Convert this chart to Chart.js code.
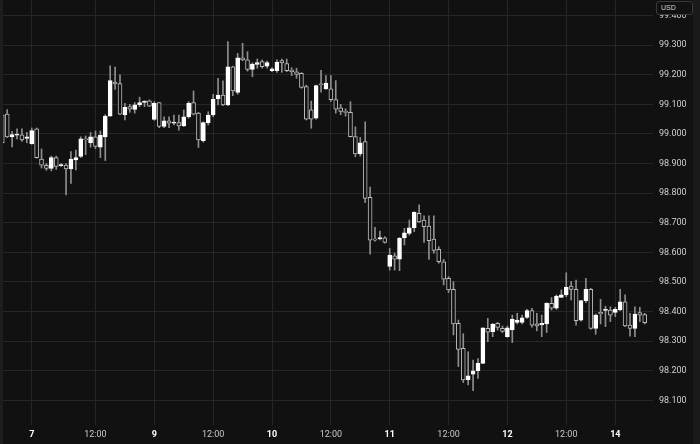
<!DOCTYPE html>
<html>
<head>
<meta charset="utf-8">
<title>USD hourly candles</title>
<script src="https://cdn.jsdelivr.net/npm/chart.js"></script>
<style>
  html, body { margin: 0; padding: 0; background: #111111; }
  #wrap { position: relative; width: 700px; height: 444px; box-sizing: border-box;
          border-left: 3px solid #1d1d1d; border-right: 7px solid #1a1a1a; }
  #usd { position: absolute; left: 653px; top: 1px; width: 37px; height: 14px; box-sizing: border-box;
         border: 1px solid #3a3a3a; border-radius: 3px; background: #111111; color: #cfcfcf;
         font: 7px "Liberation Sans", sans-serif; line-height: 12px; padding-left: 4px; }
</style>
</head>
<body>
<div id="wrap">
  <canvas id="chart" width="690" height="444"></canvas>
  <div id="usd">USD</div>
</div>
<script>
// hourly candles
const opens = [
  99.064, 99.067, 98.990, 98.996, 98.997, 98.985, 98.967, 99.017, 98.915, 98.894,
  98.883, 98.920, 98.893, 98.895, 98.882, 98.912, 98.924, 98.983, 98.970, 98.990,
  98.955, 98.990, 99.060, 99.175, 99.170, 99.064, 99.092, 99.083, 99.099, 99.106,
  99.112, 99.049, 99.106, 99.025, 99.044, 99.036, 99.038, 99.027, 99.058, 99.106,
  99.070, 98.977, 99.038, 99.064, 99.118, 99.131, 99.098, 99.227, 99.140, 99.257,
  99.250, 99.218, 99.235, 99.244, 99.229, 99.214, 99.214, 99.248, 99.238, 99.216,
  99.210, 99.205, 99.160, 99.081, 99.053, 99.167, 99.152, 99.152, 99.116, 99.088,
  99.075, 99.073, 98.991, 98.932, 98.974, 98.786, 98.643, 98.645, 98.649, 98.552,
  98.588, 98.577, 98.649, 98.664, 98.683, 98.732, 98.709, 98.689, 98.645, 98.610,
  98.568, 98.512, 98.475, 98.360, 98.276, 98.170, 98.188, 98.200, 98.225, 98.343,
  98.332, 98.360, 98.343, 98.315, 98.338, 98.363, 98.363, 98.380, 98.403, 98.358,
  98.355, 98.358, 98.428, 98.411, 98.448, 98.456, 98.486, 98.475, 98.371, 98.437,
  98.475, 98.343, 98.397, 98.404, 98.405, 98.397, 98.405, 98.433, 98.354, 98.343,
  98.396, 98.390
];
const highs = [
  99.070, 99.082, 99.009, 99.017, 99.017, 99.005, 99.020, 99.020, 98.949, 98.900,
  98.925, 98.925, 98.900, 98.900, 98.940, 98.945, 98.990, 98.993, 99.005, 99.010,
  99.010, 99.065, 99.230, 99.226, 99.200, 99.103, 99.100, 99.106, 99.124, 99.112,
  99.115, 99.109, 99.106, 99.058, 99.058, 99.064, 99.064, 99.081, 99.109, 99.145,
  99.073, 99.041, 99.075, 99.134, 99.188, 99.179, 99.312, 99.229, 99.272, 99.306,
  99.278, 99.240, 99.253, 99.250, 99.246, 99.224, 99.250, 99.253, 99.253, 99.224,
  99.222, 99.207, 99.165, 99.111, 99.165, 99.215, 99.197, 99.197, 99.180, 99.100,
  99.085, 99.109, 99.024, 98.988, 99.041, 98.820, 98.684, 98.672, 98.653, 98.613,
  98.597, 98.650, 98.681, 98.709, 98.737, 98.760, 98.723, 98.723, 98.723, 98.619,
  98.576, 98.518, 98.501, 98.371, 98.325, 98.264, 98.236, 98.241, 98.345, 98.377,
  98.360, 98.363, 98.351, 98.351, 98.388, 98.394, 98.388, 98.407, 98.411, 98.394,
  98.388, 98.430, 98.447, 98.456, 98.473, 98.531, 98.501, 98.506, 98.437, 98.512,
  98.478, 98.392, 98.441, 98.418, 98.416, 98.414, 98.475, 98.456, 98.394, 98.416,
  98.414, 98.394
];
const lows = [
  98.966, 98.988, 98.956, 98.983, 98.975, 98.970, 98.965, 98.918, 98.885, 98.877,
  98.875, 98.880, 98.890, 98.794, 98.833, 98.878, 98.920, 98.930, 98.955, 98.950,
  98.920, 98.910, 99.060, 99.150, 99.065, 99.047, 99.073, 99.070, 99.092, 99.092,
  99.092, 99.046, 99.021, 99.021, 99.021, 99.030, 99.013, 99.025, 99.053, 99.064,
  98.954, 98.972, 99.030, 99.058, 99.098, 99.095, 99.095, 99.129, 99.134, 99.247,
  99.212, 99.193, 99.222, 99.222, 99.222, 99.210, 99.208, 99.208, 99.210, 99.197,
  99.188, 99.154, 99.047, 99.019, 99.050, 99.141, 99.150, 99.110, 99.070, 99.065,
  99.060, 98.990, 98.923, 98.925, 98.768, 98.594, 98.638, 98.642, 98.631, 98.540,
  98.540, 98.538, 98.625, 98.658, 98.670, 98.700, 98.633, 98.576, 98.597, 98.563,
  98.490, 98.464, 98.321, 98.214, 98.160, 98.152, 98.133, 98.174, 98.225, 98.298,
  98.315, 98.337, 98.329, 98.313, 98.295, 98.358, 98.358, 98.377, 98.347, 98.335,
  98.315, 98.329, 98.405, 98.407, 98.447, 98.450, 98.439, 98.354, 98.367, 98.430,
  98.340, 98.323, 98.358, 98.349, 98.366, 98.383, 98.403, 98.349, 98.317, 98.315,
  98.366, 98.358
];
const closes = [
  98.970, 98.990, 98.998, 98.999, 98.980, 98.990, 99.011, 98.920, 98.894, 98.883,
  98.920, 98.890, 98.896, 98.882, 98.915, 98.920, 98.983, 98.980, 98.990, 98.958,
  98.995, 99.060, 99.180, 99.169, 99.067, 99.090, 99.084, 99.098, 99.106, 99.111,
  99.094, 99.103, 99.025, 99.044, 99.036, 99.037, 99.027, 99.058, 99.103, 99.067,
  98.980, 99.038, 99.064, 99.117, 99.131, 99.098, 99.227, 99.145, 99.257, 99.250,
  99.218, 99.236, 99.241, 99.227, 99.241, 99.220, 99.242, 99.240, 99.214, 99.210,
  99.201, 99.157, 99.050, 99.050, 99.163, 99.166, 99.172, 99.116, 99.084, 99.076,
  99.073, 98.991, 98.932, 98.970, 98.782, 98.641, 98.641, 98.650, 98.633, 98.591,
  98.577, 98.647, 98.666, 98.683, 98.735, 98.703, 98.687, 98.639, 98.606, 98.568,
  98.509, 98.473, 98.358, 98.272, 98.169, 98.183, 98.200, 98.225, 98.345, 98.330,
  98.357, 98.346, 98.333, 98.345, 98.374, 98.371, 98.379, 98.403, 98.354, 98.351,
  98.360, 98.428, 98.411, 98.452, 98.456, 98.482, 98.475, 98.369, 98.437, 98.475,
  98.343, 98.388, 98.392, 98.406, 98.388, 98.407, 98.433, 98.351, 98.343, 98.391,
  98.388, 98.362
];

// time axis: bar index of each label
const xTickIdx = [6, 19, 31, 43, 55, 67, 79, 91, 103, 115, 125];
const xTickLabels = ['7', '12:00', '9', '12:00', '10', '12:00', '11', '12:00', '12', '12:00', '14'];

const BG = '#111111';
const GRID = '#262626';
const FONT = 'Roboto, "Liberation Sans", sans-serif';

const isUp = opens.map((o, i) => closes[i] >= o);
const bodies = opens.map((o, i) => ({ x: i, y: [Math.min(o, closes[i]), Math.max(o, closes[i])] }));
const wicks = highs.map((h, i) => ({ x: i, y: [lows[i], h] }));

new Chart(document.getElementById('chart'), {
  type: 'bar',
  data: {
    datasets: [{
      label: 'body',
      data: bodies,
      backgroundColor: isUp.map(u => u ? '#ffffff' : BG),
      borderColor: isUp.map(u => u ? '#ffffff' : '#bcbcbc'),
      borderWidth: 1,
      borderSkipped: false,
      barThickness: 4,
      minBarLength: 1,
      grouped: false,
      clip: 0
    }, {
      label: 'wick',
      data: wicks,
      backgroundColor: '#8e8e8e',
      borderWidth: 0,
      barThickness: 1,
      grouped: false,
      clip: 0
    }]
  },
  options: {
    responsive: false,
    animation: false,
    events: [],
    layout: { padding: 0 },
    plugins: { legend: { display: false }, tooltip: { enabled: false } },
    scales: {
      x: {
        type: 'linear',
        min: 0.143,
        max: 132.69,
        offset: false,
        grid: { color: GRID, offset: false, drawTicks: false },
        border: { display: false },
        afterBuildTicks: axis => { axis.ticks = xTickIdx.map(v => ({ value: v })); },
        afterFit: axis => { axis.height = 19; axis.paddingLeft = 0; axis.paddingRight = 0; },
        ticks: {
          autoSkip: false,
          maxRotation: 0,
          padding: 4,
          callback: (v, i) => xTickLabels[i],
          color: ctx => (xTickLabels[ctx.index] || '').includes(':') ? '#c8c8c8' : '#ffffff',
          font: ctx => ({ family: FONT, size: 9,
            weight: (xTickLabels[ctx.index] || '').includes(':') ? 'normal' : 'bold' })
        }
      },
      y: {
        position: 'right',
        min: 98.0166,
        max: 99.4524,
        beginAtZero: false,
        grid: { color: GRID, drawTicks: false },
        border: { display: false },
        afterFit: axis => { axis.width = 40; axis.paddingTop = 0; axis.paddingBottom = 0; },
        ticks: {
          stepSize: 0.1,
          includeBounds: false,
          padding: 6,
          color: '#d0d0d0',
          font: { family: FONT, size: 9 },
          callback: v => v.toFixed(3)
        }
      }
    }
  }
});
</script>
</body>
</html>
